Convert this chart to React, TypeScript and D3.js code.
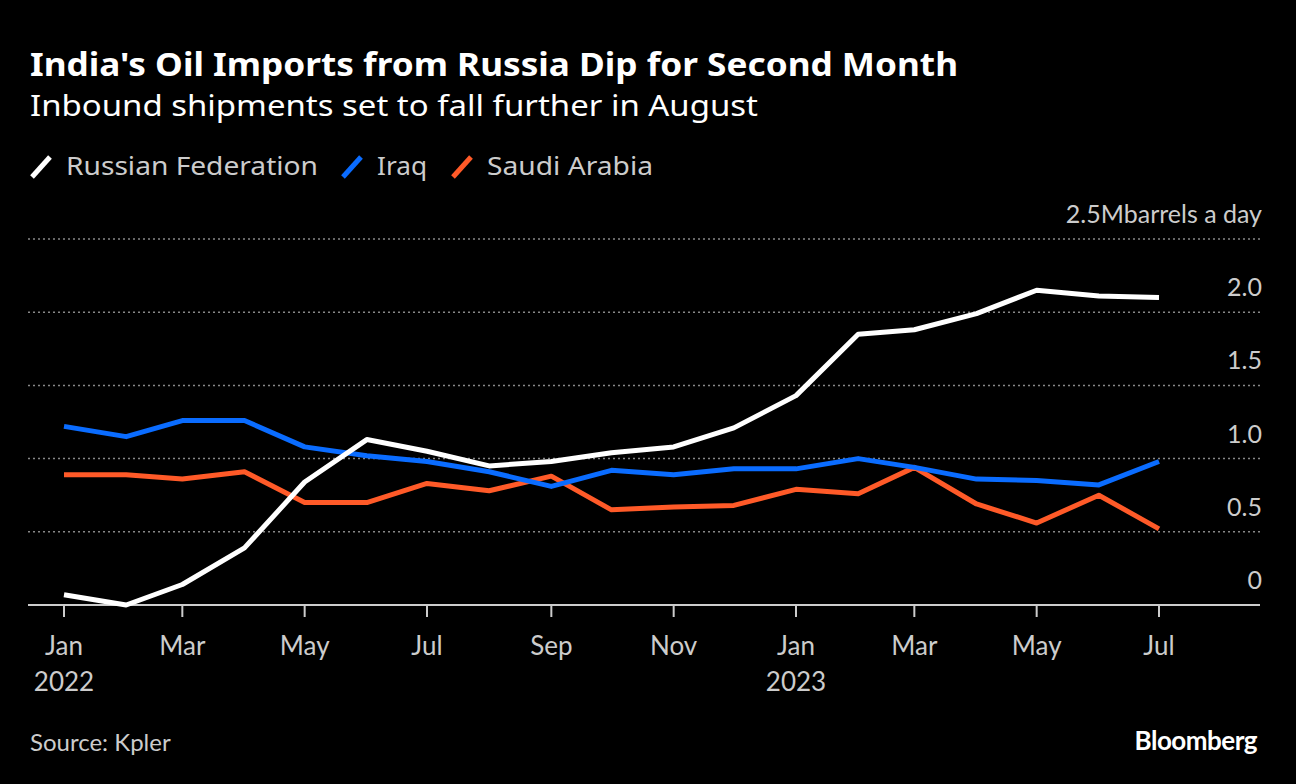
import * as d3 from "d3";

const months = d3.range(19).map((i) => new Date(2022, i, 1));
const russia = [0.07, 0.0, 0.14, 0.39, 0.84, 1.13, 1.05, 0.95, 0.98, 1.04, 1.08, 1.21, 1.43, 1.85, 1.88, 1.99, 2.15, 2.11, 2.1];
const iraq = [1.22, 1.15, 1.26, 1.26, 1.08, 1.02, 0.98, 0.91, 0.81, 0.92, 0.89, 0.93, 0.93, 1.0, 0.94, 0.86, 0.85, 0.82, 0.98];
const saudi = [0.89, 0.89, 0.86, 0.91, 0.7, 0.7, 0.83, 0.78, 0.88, 0.65, 0.67, 0.68, 0.79, 0.76, 0.94, 0.69, 0.56, 0.75, 0.52];
const yTicks = [0, 0.5, 1.0, 1.5, 2.0, 2.5];

const series = [
  { name: "Russian Federation", values: russia, color: "#ffffff", lx: 30, tw: 252 },
  { name: "Iraq", values: iraq, color: "#0a6cff", lx: 341, tw: 50 },
  { name: "Saudi Arabia", values: saudi, color: "#ff5a28", lx: 451, tw: 166 },
];

const W = 1296;
const H = 784;
const font = "Lato, 'Noto Sans', sans-serif";
const wide = "'Noto Sans', sans-serif";

export default function App() {
  const x = d3.scaleTime().domain([months[0], months[18]]).range([64, 1159]);
  const y = d3.scaleLinear().domain([0, 2.5]).range([605, 239]);
  const line = d3
    .line<number>()
    .x((_, i) => x(months[i]))
    .y((d) => y(d));
  const xTicks = months.filter((_, i) => i % 2 === 0);
  const fmt = (v: number) => (v === 0 ? "0" : v.toFixed(1));
  return (
    <svg width={W} height={H} style={{ position: "absolute", left: 0, top: 0, background: "#000" }} fontFamily={font}>
      <rect width={W} height={H} fill="#000" />
      <text x={30} y={76} fill="#fff" fontSize={33} fontWeight={700} fontFamily={wide} textLength={928} lengthAdjust="spacingAndGlyphs">
        India's Oil Imports from Russia Dip for Second Month
      </text>
      <text x={30} y={116} fill="#fff" fontSize={29} fontFamily={wide} textLength={728} lengthAdjust="spacingAndGlyphs">
        Inbound shipments set to fall further in August
      </text>
      {series.map((s) => (
        <g key={s.name}>
          <line x1={s.lx + 2} y1={177} x2={s.lx + 20} y2={157} stroke={s.color} strokeWidth={5} />
          <text x={s.lx + 36} y={175} fill="#ccc" fontSize={26} fontFamily={wide} textLength={s.tw} lengthAdjust="spacingAndGlyphs">
            {s.name}
          </text>
        </g>
      ))}
      {yTicks.map((t) =>
        t === 0 ? null : (
          <line key={t} x1={28} x2={1260} y1={y(t)} y2={y(t)} stroke="#888" strokeDasharray="2 3" strokeWidth={1.5} />
        )
      )}
      {yTicks.map((t) => (
        <text key={"l" + t} x={1262} y={y(t) - 16} textAnchor="end" fill="#ccc" fontSize={25}>
          {t === 2.5 ? "2.5Mbarrels a day" : fmt(t)}
        </text>
      ))}
      <line x1={28} x2={1260} y1={605} y2={605} stroke="#ccc" strokeWidth={2} />
      {xTicks.map((d, i) => (
        <g key={i}>
          <line x1={x(d)} x2={x(d)} y1={606} y2={617} stroke="#ccc" strokeWidth={2} />
          <text x={x(d)} y={655} textAnchor="middle" fill="#ccc" fontSize={26}>
            {d3.timeFormat("%b")(d)}
          </text>
          {d.getMonth() === 0 && (
            <text x={x(d)} y={691} textAnchor="middle" fill="#ccc" fontSize={26}>
              {d.getFullYear()}
            </text>
          )}
        </g>
      ))}
      {[...series].reverse().map((s) => (
        <path key={s.name} d={line(s.values) ?? ""} fill="none" stroke={s.color} strokeWidth={5} strokeLinejoin="round" />
      ))}
      <text x={30} y={751} fill="#ccc" fontSize={24}>
        Source: Kpler
      </text>
      <text x={1257} y={750} textAnchor="end" fill="#fff" fontSize={26} fontWeight={700} letterSpacing={-0.5}>
        Bloomberg
      </text>
    </svg>
  );
}
